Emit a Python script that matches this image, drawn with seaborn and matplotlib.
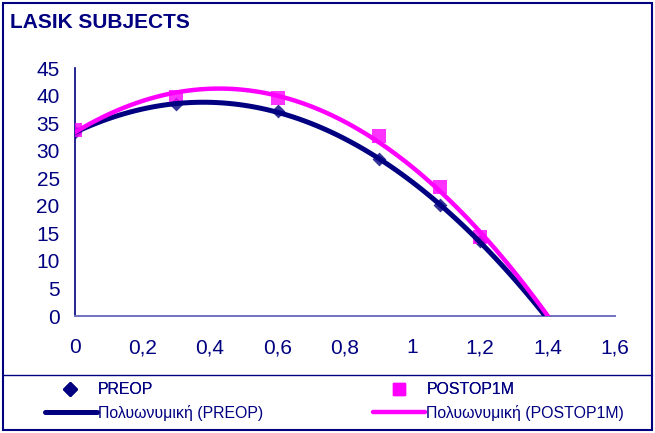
import matplotlib
matplotlib.use("Agg")
import matplotlib.pyplot as plt
import seaborn as sns
import pandas as pd
from matplotlib.lines import Line2D
from matplotlib.patches import Rectangle

# ---- data ----
x_vals = [0.0, 0.3, 0.6, 0.9, 1.08, 1.2]
preop = [33.3, 38.5, 37.2, 28.4, 20.1, 13.6]
postop1m = [33.8, 39.8, 39.5, 32.6, 23.4, 14.3]
x_ticks = [0, 0.2, 0.4, 0.6, 0.8, 1.0, 1.2, 1.4, 1.6]
x_tick_labels = ["0", "0,2", "0,4", "0,6", "0,8", "1", "1,2", "1,4", "1,6"]
y_ticks = [0, 5, 10, 15, 20, 25, 30, 35, 40, 45]
title = "LASIK SUBJECTS"
name_pre = "PREOP"
name_post = "POSTOP1M"
trend_pre = "Πολυωνυμική (PREOP)"
trend_post = "Πολυωνυμική (POSTOP1M)"

NAVY = "#000080"
MAGENTA = "#FF00FF"
AXIS = "#7070C0"

sns.set_style("white")
plt.rcParams["font.family"] = ["Liberation Sans", "DejaVu Sans"]

df = pd.DataFrame({"x": x_vals, "pre": preop, "post": postop1m})

fig = plt.figure(figsize=(6.55, 4.33), dpi=100)
ax = fig.add_axes([75 / 655, 117 / 433, 540 / 655, 248 / 433])
ax.set_xlim(0, 1.6)
ax.set_ylim(0, 45)

sns.regplot(data=df, x="x", y="pre", order=2, ci=None, truncate=False, ax=ax, marker="D",
            scatter_kws=dict(s=50, color=NAVY, linewidths=0, zorder=3),
            line_kws=dict(color=NAVY, lw=3.6, zorder=4))
sns.regplot(data=df, x="x", y="post", order=2, ci=None, truncate=False, ax=ax, marker="s",
            scatter_kws=dict(s=95, color=MAGENTA, linewidths=0, zorder=3),
            line_kws=dict(color=MAGENTA, lw=3.2, zorder=5))

ax.set_xlim(0, 1.6)
ax.set_ylim(0, 45)
ax.set_xticks(x_ticks)
ax.set_xticklabels(x_tick_labels)
ax.set_yticks(y_ticks)
ax.set_xlabel("")
ax.set_ylabel("")
for s in ["top", "right"]:
    ax.spines[s].set_visible(False)
ax.spines["left"].set_color(NAVY)
ax.spines["left"].set_linewidth(1.2)
ax.spines["bottom"].set_color(AXIS)
ax.spines["bottom"].set_linewidth(1.4)
ax.tick_params(axis="both", direction="out", length=5, width=1.2, color=AXIS,
               labelcolor=NAVY, labelsize=15)
ax.tick_params(axis="x", pad=11)
ax.tick_params(axis="y", pad=6)

# outer frame and legend separator
fig.patches.append(Rectangle((3 / 655, 3 / 433), 649 / 655, 427 / 433, transform=fig.transFigure,
                             fill=False, edgecolor=NAVY, lw=1.5))
fig.lines.append(Line2D([3 / 655, 652 / 655], [1 - 375 / 433, 1 - 375 / 433],
                        transform=fig.transFigure, color=NAVY, lw=1.0))

fig.text(10 / 655, 1 - 23 / 433, title, fontsize=15, fontweight="bold", color=NAVY,
         va="center", ha="left")

# legend rows
FS = 11.4
h1 = [Line2D([], [], marker="D", color=NAVY, ls="none", markersize=7),
      Line2D([], [], marker="s", color=MAGENTA, ls="none", markersize=9)]
leg1 = fig.legend(h1, [name_pre, name_post], ncol=2, frameon=False,
                  loc="center left", bbox_to_anchor=(54 / 655, 1 - 390 / 433),
                  fontsize=FS, labelcolor=NAVY, handlelength=2, handletextpad=0.77,
                  columnspacing=14.5, borderpad=0, borderaxespad=0)
h2 = [Line2D([], [], color=NAVY, lw=3.6), Line2D([], [], color=MAGENTA, lw=3.2)]
leg2 = fig.legend(h2, [trend_pre, trend_post], ncol=2, frameon=False,
                  loc="center left", bbox_to_anchor=(45 / 655, 1 - 413 / 433),
                  fontsize=FS, labelcolor=NAVY, handlelength=3.28, handletextpad=0.06,
                  columnspacing=6.95, borderpad=0, borderaxespad=0)
fig.add_artist(leg1)

fig.savefig("out.png", dpi=100)
